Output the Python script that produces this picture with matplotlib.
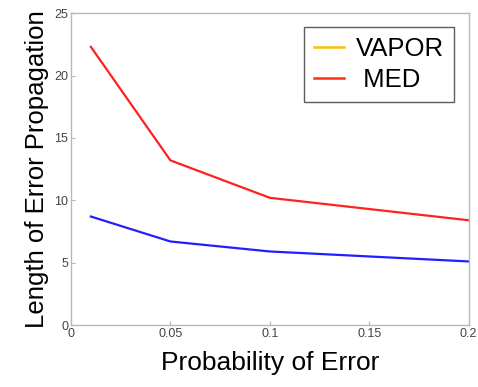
import matplotlib

matplotlib.use("Agg")
import matplotlib.pyplot as plt

plt.rcParams["font.family"] = ["Liberation Sans", "DejaVu Sans"]

prob_error = [0.01, 0.05, 0.1, 0.2]
med_length = [22.3, 13.2, 10.2, 8.4]
vapor_length = [8.7, 6.7, 5.9, 5.1]

x_ticks = [0, 0.05, 0.1, 0.15, 0.2]
x_tick_labels = ["0", "0.05", "0.1", "0.15", "0.2"]
y_ticks = [0, 5, 10, 15, 20, 25]

fig = plt.figure(figsize=(4.78, 3.87), dpi=100)
ax = fig.add_axes([0.1485, 0.160, 0.832, 0.806])

ax.plot(prob_error, med_length, color="#ff2020", lw=1.6)
ax.plot(prob_error, vapor_length, color="#2020ff", lw=1.6)

# legend handles as drawn in the source figure
ax.plot([], [], color="#ffc000", lw=1.8, label="VAPOR")
ax.plot([], [], color="#ff3010", lw=1.8, label=" MED")

ax.set_xlim(0, 0.2)
ax.set_ylim(0, 25)
ax.set_xticks(x_ticks)
ax.set_xticklabels(x_tick_labels)
ax.set_yticks(y_ticks)

for spine in ax.spines.values():
    spine.set_color("#b8b8b8")
    spine.set_linewidth(1.0)
ax.tick_params(direction="in", length=3, colors="#b8b8b8", labelcolor="#444444",
               labelsize=9, pad=2)

ax.set_xlabel("Probability of Error", fontsize=19, labelpad=8)
ax.set_ylabel("Length of Error Propagation", fontsize=18.5, labelpad=4)

leg = ax.legend(loc="upper right", bbox_to_anchor=(0.963, 0.956), fontsize=18.5,
                frameon=True, fancybox=False, handlelength=1.15,
                handletextpad=0.45, borderpad=0.4, borderaxespad=0.0,
                labelspacing=0.25)
leg.get_frame().set_edgecolor("#333333")
leg.get_frame().set_linewidth(1.0)

fig.savefig("out.png", dpi=100)
